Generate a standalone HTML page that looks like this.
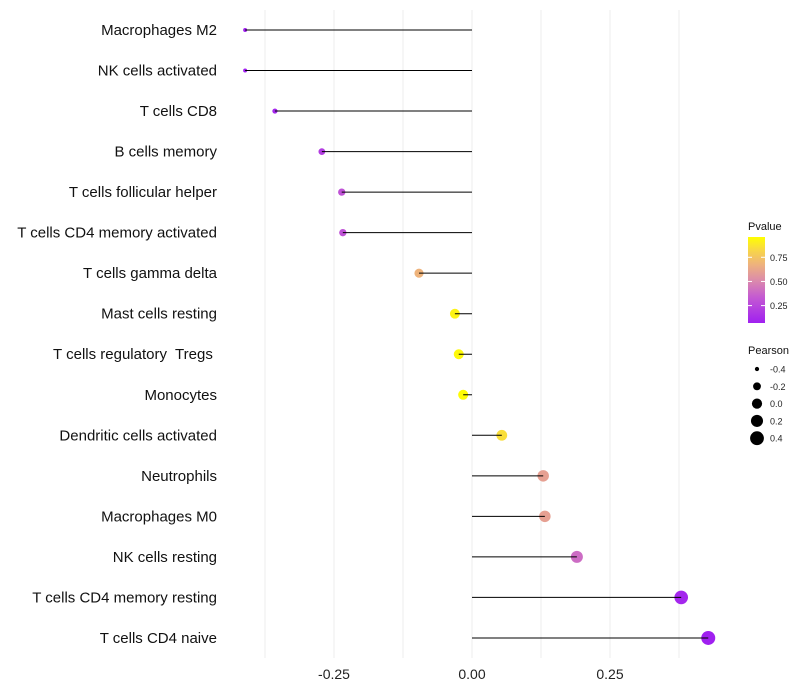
<!DOCTYPE html>
<html><head><meta charset="utf-8"><style>
body{margin:0;background:#fff}
svg{display:block;font-family:"Liberation Sans",sans-serif}
text{white-space:pre}
</style></head><body>
<svg id="c" width="800" height="700"></svg>
<script>
const categories=["Macrophages M2","NK cells activated","T cells CD8","B cells memory","T cells follicular helper","T cells CD4 memory activated","T cells gamma delta","Mast cells resting","T cells regulatory  Tregs ","Monocytes","Dendritic cells activated","Neutrophils","Macrophages M0","NK cells resting","T cells CD4 memory resting","T cells CD4 naive"];
const pearson=[-0.411,-0.411,-0.357,-0.272,-0.236,-0.234,-0.096,-0.031,-0.024,-0.016,0.054,0.129,0.132,0.190,0.379,0.428];
const pvalue=[0.03,0.03,0.1,0.2,0.3,0.3,0.68,0.92,0.94,0.95,0.85,0.6,0.6,0.4,0.1,0.06];
const xTicks=[-0.25,0,0.25];
const xTickLabels=["-0.25","0.00","0.25"];
const colorTicks=[0.25,0.5,0.75];
const sizeTicks=[-0.4,-0.2,0,0.2,0.4];
const sizeTickLabels=["-0.4","-0.2","0.0","0.2","0.4"];

const NS="http://www.w3.org/2000/svg";
const svg=document.getElementById('c');
function mk(t,a,p){const e=document.createElementNS(NS,t);for(const k in a)e.setAttribute(k,a[k]);(p||svg).appendChild(e);return e;}
const x=v=>472+v*552;
const y=i=>30+i*40.53;
const r=v=>Math.sqrt(Math.max(1,26+53.6*v));
const stops=[[0,[160,32,240]],[0.3,[196,90,210]],[0.5,[220,140,170]],[0.68,[238,178,125]],[0.85,[248,215,70]],[1,[255,255,0]]];
const pmin=0.07,pmax=0.96;
function col(p){let t=(p-pmin)/(pmax-pmin);t=Math.max(0,Math.min(1,t));for(let i=1;i<stops.length;i++){if(t<=stops[i][0]){const a=stops[i-1],b=stops[i];const f=(t-a[0])/(b[0]-a[0]);return 'rgb('+a[1].map((c,j)=>Math.round(c+(b[1][j]-c)*f)).join(',')+')';}}return 'rgb(255,255,0)';}

[-0.375,-0.25,-0.125,0,0.125,0.25,0.375].forEach(v=>{
  const g=mk('line',{x1:x(v),x2:x(v),y1:10,y2:658,stroke:'#ededed','stroke-width':1});
  
  
});
xTicks.forEach((v,i)=>{
  const t=mk('text',{x:x(v),y:679,'text-anchor':'middle','font-size':14,fill:'#222'});
  t.textContent=xTickLabels[i];
  
  
});
categories.forEach((c,i)=>{
  const t=mk('text',{x:217,y:y(i)+5,'text-anchor':'end','font-size':15,fill:'#111'});
  t.textContent=c;
  
  
  const pt=mk('circle',{cx:x(pearson[i]),cy:y(i),r:r(pearson[i]),fill:col(pvalue[i])});
  
  
  const s=mk('line',{x1:x(0),x2:x(pearson[i]),y1:y(i),y2:y(i),stroke:'#000','stroke-width':1});
  
  
});
let lt=mk('text',{x:748,y:230,'font-size':11,fill:'#111'});lt.textContent='Pvalue';


const defs=mk('defs',{});const lg=mk('linearGradient',{id:'g',x1:0,y1:1,x2:0,y2:0},defs);
stops.forEach(s=>mk('stop',{offset:s[0],'stop-color':'rgb('+s[1].join(',')+')'},lg));
const bar=mk('rect',{x:748,y:237,width:17,height:86,fill:'url(#g)'});


const cy=p=>323-(p-pmin)/(pmax-pmin)*86;
colorTicks.forEach(p=>{
  mk('line',{x1:748,x2:752,y1:cy(p),y2:cy(p),stroke:'#fff'});
  mk('line',{x1:761,x2:765,y1:cy(p),y2:cy(p),stroke:'#fff'});
  const t=mk('text',{x:770,y:cy(p)+3.5,'font-size':9,fill:'#222'});t.textContent=p.toFixed(2);
  
  
});
lt=mk('text',{x:748,y:354,'font-size':11,fill:'#111'});lt.textContent='Pearson';


sizeTicks.forEach((v,i)=>{
  const yy=369+i*17.3;
  const c=mk('circle',{cx:757,cy:yy,r:r(v),fill:'#000'});
  
  
  const t=mk('text',{x:770,y:yy+3.5,'font-size':9,fill:'#222'});t.textContent=sizeTickLabels[i];
  
  
});
</script>
</body></html>
